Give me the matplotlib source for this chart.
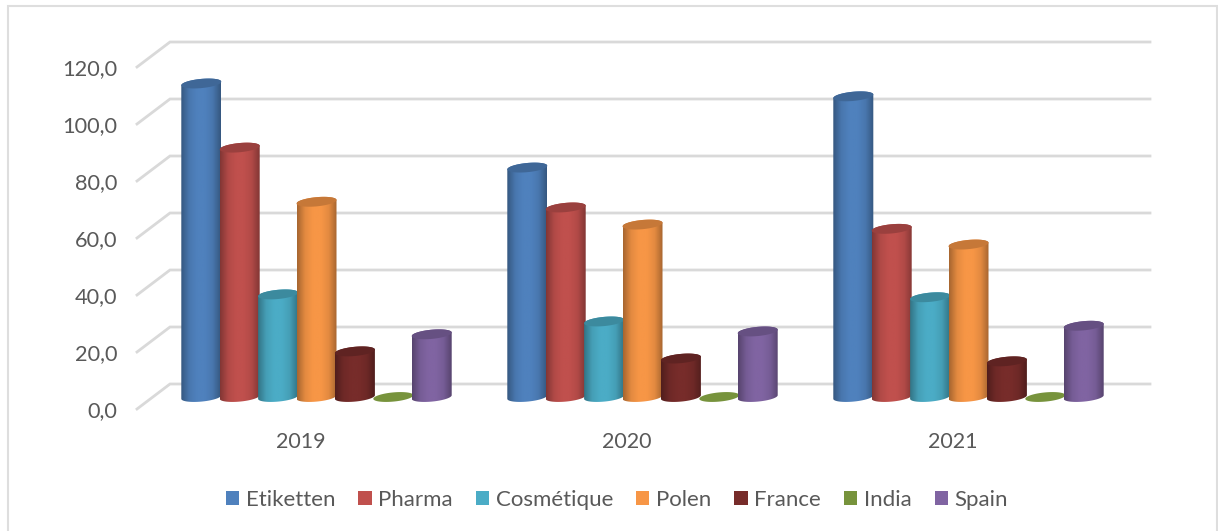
import numpy as np
import matplotlib
matplotlib.use('Agg')
import matplotlib.pyplot as plt
from matplotlib.patches import Patch, PathPatch, Polygon
from matplotlib.path import Path
from matplotlib.colors import LinearSegmentedColormap

years = ['2019', '2020', '2021']
series = ['Etiketten', 'Pharma', 'Cosmétique', 'Polen', 'France', 'India', 'Spain']
etiketten = [110.0, 80.5, 105.5]
pharma = [87.5, 66.5, 59.0]
cosmetique = [36.0, 26.5, 35.0]
polen = [68.5, 60.5, 53.5]
france = [16.0, 13.5, 12.5]
india = [0.0, 0.0, 0.0]
spain = [22.0, 23.0, 25.0]
values = [etiketten, pharma, cosmetique, polen, france, india, spain]
colors = ['#4f81bd', '#c0504d', '#4bacc6', '#f79646', '#772c2a', '#77933c', '#8064a2']
ticks = [0, 20, 40, 60, 80, 100, 120]

W, H = 1218, 531
PX_GROUP = 326.0      # px per category
PX_VAL = 2.85         # px per unit of value
X0, Y0 = 316.5, 397.0 # px of 2019 centre / value 0 on the bar plane
STEP = 38.4 / PX_GROUP
RX = 20.0 / PX_GROUP
RY = 4.6 / PX_VAL
TILT = 1.8 / PX_VAL   # right side of the ellipse is higher

fig = plt.figure(figsize=(W / 100, H / 100), dpi=100)
plt.rcParams['font.family'] = ['Lato', 'DejaVu Sans']
ax = fig.add_axes([0, 0, 1, 1])
ax.axis('off')

# outer frame, open at the bottom
fig.add_artist(plt.Line2D([7.5 / W, 7.5 / W, 1216.5 / W, 1216.5 / W], [0, 1 - 5.5 / H, 1 - 5.5 / H, 0],
                          transform=fig.transFigure, color='#dedede', lw=1.5, solid_joinstyle='miter'))

# grid on the back wall and the side wall
back_dy = 13 / PX_VAL
front_dy = -12 / PX_VAL
x_front = (137 - X0) / PX_GROUP
x_back = (170 - X0) / PX_GROUP
x_end = (1150 - X0) / PX_GROUP
for t in ticks:
    ax.plot([x_front, x_back, x_end], [t + front_dy, t + back_dy, t + back_dy],
            color='#d9d9d9', lw=2, solid_joinstyle='miter', zorder=1)
    ax.text(x_front - 20 / PX_GROUP, t - 14 / PX_VAL, '%d,0' % t, ha='right', va='center',
            fontsize=15.7, color='#595959')

for i, y in enumerate(years):
    ax.text(i - 15.5 / PX_GROUP, -45 / PX_VAL, y, ha='center', va='center', fontsize=15.5, color='#595959')


def ellipse(cx, v, a=0, b=np.pi * 2, n=60):
    t = np.linspace(a, b, n)
    return cx + RX * np.cos(t), v + RY * np.sin(t) + TILT * np.cos(t)


def darker(c, f):
    return tuple(f * k for k in matplotlib.colors.to_rgb(c))


z = 3
for g in range(len(years)):
    for s in range(len(series)):
        cx = g + (s - 3) * STEP
        v = values[s][g]
        col = colors[s]
        if v > 0:
            # body: bottom half of the base ellipse, then up to the top
            bx, by = ellipse(cx, 0, np.pi, 2 * np.pi)
            tx, ty = ellipse(cx, v, 0, np.pi)
            verts = list(zip(bx, by)) + list(zip(tx, ty)) + [(bx[0], by[0])]
            cmap = LinearSegmentedColormap.from_list(
                's', [darker(col, 0.68), darker(col, 0.92), col, col, darker(col, 0.92), darker(col, 0.68)])
            im = ax.imshow(np.linspace(0, 1, 64).reshape(1, -1), cmap=cmap, aspect='auto', zorder=z,
                           extent=[cx - RX, cx + RX, -RY - TILT, v + RY + TILT], interpolation='bilinear')
            clip = PathPatch(Path(verts), transform=ax.transData, fc='none', ec='none')
            ax.add_patch(clip)
            im.set_clip_path(clip)
            cap = darker(col, 0.8)
        else:
            cap = col
        ex, ey = ellipse(cx, v)
        ax.add_patch(Polygon(np.column_stack([ex, ey]), closed=True, fc=cap, ec='none', zorder=z + 0.5))
        z += 1

ax.set_xlim(-X0 / PX_GROUP, (W - X0) / PX_GROUP)
ax.set_ylim((Y0 - H) / PX_VAL, Y0 / PX_VAL)

handles = [Patch(fc=c, ec='none', label=n) for c, n in zip(colors, series)]
ax.legend(handles=handles, ncol=7, frameon=False, loc='center', fontsize=16,
          bbox_to_anchor=(617 / W, 1 - 499.5 / H), labelcolor='#595959', handlelength=0.6,
          handleheight=0.6, handletextpad=0.3, columnspacing=1.03, borderpad=0, borderaxespad=0)

fig.savefig('out.png', dpi=100, facecolor='white')
